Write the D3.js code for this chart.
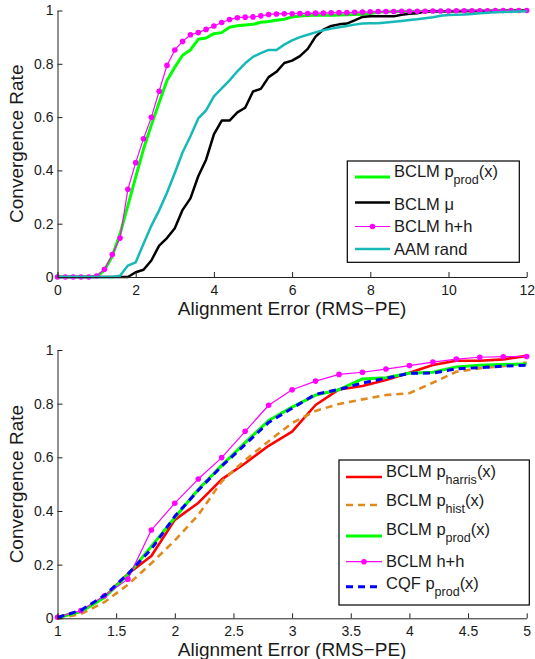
<!DOCTYPE html>
<html><head><meta charset="utf-8">
<script src="https://cdn.jsdelivr.net/npm/d3@7"></script>
<style>
body{margin:0;background:#fff}
svg{display:block}
text{font-family:"Liberation Sans",Arial,Helvetica,sans-serif;fill:#1a1a1a}
</style>
</head><body>
<svg id="c" width="535" height="659"></svg>
<script>
// ---------- DATA ----------
const topX = [0,0.2,0.4,0.6,0.8,1,1.2,1.4,1.6,1.8,2,2.2,2.4,2.6,2.8,3,3.2,3.4,3.6,3.8,4,4.2,4.4,4.6,4.8,5,5.2,5.4,5.6,5.8,6,6.2,6.4,6.6,6.8,7,7.2,7.4,7.6,7.8,8,8.2,8.4,8.6,8.8,9,9.2,9.4,9.6,9.8,10,10.2,10.4,10.6,10.8,11,11.2,11.4,11.6,11.8,12];
const bclmProd = [0,0,0,0,0,0.002,0.025,0.078,0.162,0.268,0.375,0.48,0.57,0.655,0.737,0.787,0.832,0.852,0.892,0.897,0.913,0.917,0.937,0.943,0.946,0.948,0.956,0.959,0.963,0.967,0.976,0.979,0.981,0.982,0.982,0.982,0.983,0.984,0.985,0.986,0.989,0.993,0.995,0.995,0.996,0.996,0.996,0.997,0.997,0.997,0.997,0.998,0.998,0.998,0.998,0.998,0.999,0.999,0.999,0.999,1];
const bclmMu = [0,0,0,0,0,0,0,0,0,0,0.018,0.027,0.062,0.118,0.146,0.183,0.252,0.295,0.378,0.44,0.535,0.587,0.587,0.618,0.635,0.696,0.706,0.75,0.77,0.803,0.812,0.829,0.856,0.902,0.928,0.942,0.948,0.951,0.963,0.976,0.978,0.978,0.978,0.978,0.984,0.988,0.99,0.996,0.997,0.997,0.997,0.997,0.998,0.998,0.998,0.998,0.998,0.998,0.999,0.999,0.999];
const bclmHH = [0,0,0,0,0,0.004,0.029,0.084,0.146,0.329,0.429,0.519,0.599,0.697,0.794,0.852,0.884,0.909,0.917,0.929,0.942,0.955,0.966,0.973,0.975,0.976,0.98,0.985,0.987,0.988,0.988,0.989,0.989,0.99,0.99,0.991,0.992,0.992,0.993,0.994,0.995,0.996,0.996,0.996,0.997,0.997,0.997,0.997,0.998,0.998,0.998,0.999,0.999,0.999,0.999,0.999,1,1,1,1,1];
const aamRand = [0,0,0,0,0,0,0,0,0.005,0.043,0.055,0.125,0.192,0.25,0.316,0.39,0.468,0.528,0.595,0.625,0.678,0.708,0.738,0.772,0.802,0.826,0.84,0.852,0.852,0.872,0.888,0.9,0.909,0.918,0.926,0.932,0.937,0.942,0.947,0.951,0.952,0.952,0.955,0.958,0.961,0.964,0.967,0.971,0.975,0.98,0.983,0.984,0.985,0.987,0.99,0.992,0.993,0.994,0.995,0.996,0.997];

const botX = [1,1.2,1.4,1.6,1.8,2,2.2,2.4,2.6,2.8,3,3.2,3.4,3.6,3.8,4,4.2,4.4,4.6,4.8,5];
const bclmHarris = [0.005,0.025,0.08,0.165,0.232,0.367,0.43,0.518,0.578,0.643,0.696,0.795,0.853,0.866,0.888,0.915,0.944,0.96,0.96,0.965,0.978];
const bclmHist = [0,0.016,0.06,0.125,0.205,0.29,0.385,0.51,0.59,0.66,0.728,0.773,0.799,0.816,0.832,0.839,0.878,0.919,0.932,0.94,0.953];
const cqfProd = [0.003,0.03,0.085,0.165,0.258,0.38,0.477,0.567,0.648,0.73,0.783,0.835,0.853,0.877,0.895,0.913,0.914,0.93,0.934,0.94,0.943];

const yTicks = [0,0.2,0.4,0.6,0.8,1];
const topXTicks = [0,2,4,6,8,10,12];
const botXTicks = [1,1.5,2,2.5,3,3.5,4,4.5,5];
const yLabel = "Convergence Rate";
const xLabel = "Alignment Error (RMS\u2212PE)";

// ---------- STYLES ----------
const ST = {
  prod:   {color:"#00ff00", w:3},
  mu:     {color:"#000000", w:2.5},
  hh:     {color:"#ff00ff", w:1.2, marker:true},
  aam:    {color:"#17b8b8", w:2.5},
  harris: {color:"#ff0000", w:2.6},
  hist:   {color:"#e08a1e", w:2.6, dash:"7,5"},
  cqf:    {color:"#0000ff", w:3, dash:"7,5"}
};
const AX = "#222";
const FONT = '"Liberation Sans",Arial,Helvetica,sans-serif';

const svg = d3.select("#c");

function zip(xs, ys){ return xs.map((x,i)=>[x, ys[i]]); }

function drawAxes(g, x, y, xt, yt, x0, x1, y0, y1){
  const gx = g.append("g").attr("transform",`translate(0,${y0})`)
    .call(d3.axisBottom(x).tickValues(xt).tickFormat(d=>String(d)).tickSizeInner(-5).tickSizeOuter(0).tickPadding(8));
  const gy = g.append("g").attr("transform",`translate(${x0},0)`)
    .call(d3.axisLeft(y).tickValues(yt).tickFormat(d=>String(d)).tickSizeInner(-5).tickSizeOuter(0).tickPadding(4));
  [gx,gy].forEach(a=>{
    a.attr("font-family",FONT).attr("font-size",14).attr("color",AX);
    a.select(".domain").attr("stroke",AX).attr("stroke-width",1);
    a.selectAll(".tick line").attr("stroke",AX);
    a.selectAll(".tick text").attr("fill","#1a1a1a");
  });
}

function drawSeries(g, x, y, pts, st){
  const line = d3.line().x(d=>x(d[0])).y(d=>y(d[1]));
  const p = g.append("path").datum(pts).attr("d",line).attr("fill","none")
    .attr("stroke",st.color).attr("stroke-width",st.w).attr("stroke-linejoin","round");
  if(st.dash) p.attr("stroke-dasharray",st.dash);
  if(st.marker){
    g.selectAll(null).data(pts).enter().append("circle")
      .attr("cx",d=>x(d[0])).attr("cy",d=>y(d[1])).attr("r",2.8).attr("fill",st.color);
  }
}

function legend(g, box, entries){
  g.append("rect").attr("x",box.x).attr("y",box.y).attr("width",box.w).attr("height",box.h)
    .attr("fill","#fff").attr("stroke","#000").attr("stroke-width",1.2);
  entries.forEach(e=>{
    const st = ST[e.key];
    const l = g.append("line").attr("x1",box.lx1).attr("x2",box.lx2).attr("y1",e.ly).attr("y2",e.ly)
      .attr("stroke",st.color).attr("stroke-width",st.w);
    if(st.dash) l.attr("stroke-dasharray",st.dash);
    if(st.marker) g.append("circle").attr("cx",(box.lx1+box.lx2)/2).attr("cy",e.ly).attr("r",2.8).attr("fill",st.color);
    const t = g.append("text").attr("x",box.tx).attr("y",e.ty).attr("font-size",16.5);
    e.parts.forEach(p=>{
      if(p[1]==="sub") t.append("tspan").attr("font-size",12.5).attr("dy",6.5).text(p[0]);
      else if(p[1]==="after") t.append("tspan").attr("dy",-6.5).text(p[0]);
      else t.append("tspan").text(p[0]);
    });
  });
}

function axisLabels(g, x0, x1, y0, y1, xlabY){
  g.append("text").attr("x",(x0+x1)/2).attr("y",xlabY).attr("text-anchor","middle")
    .attr("font-size",19).text(xLabel);
  g.append("text").attr("transform",`translate(23,${(y0+y1)/2}) rotate(-90)`)
    .attr("text-anchor","middle").attr("font-size",19).text(yLabel);
}

// ---------- TOP PANEL ----------
{
  const x0=57.5, x1=526.7, y0=277, y1=10.5;
  const x = d3.scaleLinear().domain([0,12]).range([x0,x1]);
  const y = d3.scaleLinear().domain([0,1]).range([y0,y1]);
  const g = svg.append("g");
  drawSeries(g,x,y,zip(topX,bclmProd),ST.prod);
  drawSeries(g,x,y,zip(topX,bclmMu),ST.mu);
  drawSeries(g,x,y,zip(topX,bclmHH),ST.hh);
  drawSeries(g,x,y,zip(topX,aamRand),ST.aam);
  drawAxes(g,x,y,topXTicks,yTicks,x0,x1,y0,y1);
  axisLabels(g,x0,x1,y0,y1,315);
  legend(g,{x:347.3,y:161,w:172,h:101.3,lx1:355,lx2:390,tx:394},[
    {key:"prod", ly:177, ty:177, parts:[["BCLM p",""],["prod","sub"],["(x)","after"]]},
    {key:"mu", ly:202.5, ty:210, parts:[["BCLM \u03bc",""]]},
    {key:"hh", ly:226.5, ty:232, parts:[["BCLM h+h",""]]},
    {key:"aam", ly:249, ty:254.5, parts:[["AAM rand",""]]}
  ]);
}

// ---------- BOTTOM PANEL ----------
{
  const x0=57.5, x1=526.7, y0=618.3, y1=350;
  const x = d3.scaleLinear().domain([1,5]).range([x0,x1]);
  const y = d3.scaleLinear().domain([0,1]).range([y0,y1]);
  const g = svg.append("g");
  const inRange = pts => pts.filter(d=>d[0]>=0.999 && d[0]<=5.001);
  drawSeries(g,x,y,zip(botX,bclmHarris),ST.harris);
  drawSeries(g,x,y,zip(botX,bclmHist),ST.hist);
  drawSeries(g,x,y,inRange(zip(topX,bclmProd)),ST.prod);
  drawSeries(g,x,y,inRange(zip(topX,bclmHH)),ST.hh);
  drawSeries(g,x,y,zip(botX,cqfProd),ST.cqf);
  drawAxes(g,x,y,botXTicks,yTicks,x0,x1,y0,y1);
  axisLabels(g,x0,x1,y0,y1,656);
  legend(g,{x:339,y:460,w:190.3,h:145,lx1:346,lx2:382,tx:386},[
    {key:"harris", ly:477, ty:477, parts:[["BCLM p",""],["harris","sub"],["(x)","after"]]},
    {key:"hist", ly:505, ty:506, parts:[["BCLM p",""],["hist","sub"],["(x)","after"]]},
    {key:"prod", ly:536, ty:535, parts:[["BCLM p",""],["prod","sub"],["(x)","after"]]},
    {key:"hh", ly:561.7, ty:567.3, parts:[["BCLM h+h",""]]},
    {key:"cqf", ly:586.7, ty:589.3, parts:[["CQF p",""],["prod","sub"],["(x)","after"]]}
  ]);
}
</script>
</body></html>
